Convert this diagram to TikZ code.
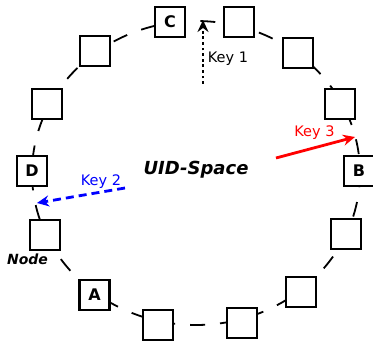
\documentclass[tikz,border=0pt]{standalone}
\usepackage{fontspec}
\setmainfont{DejaVu Sans}
\usetikzlibrary{arrows.meta}
\begin{document}
\begin{tikzpicture}[x=1pt,y=1pt,
  peer/.style={draw=black, line width=2.8pt, fill=white, minimum size=30pt,
    inner sep=0pt, font=\fontsize{16}{16}\selectfont\bfseries},
  ring/.style={line width=1.8pt, dash pattern=on 15pt off 15pt, dash phase=11pt},
  keyarrow/.style={line width=2.8pt, -{Stealth[length=12pt,width=11pt,inset=4pt]}},
  keylabel/.style={font=\fontsize{14.5}{14.5}\selectfont, inner sep=0pt},
  title/.style={font=\fontsize{18}{18}\selectfont\bfseries\itshape, inner sep=0pt}
]
\useasboundingbox (0,0) rectangle (373,346);

% identifier ring
\draw[ring] (196,173) ellipse [x radius=164, y radius=152];

% peers on the ring
\node[peer] (n00) at (359,175) {B};
\node[peer] (n01) at (340,242) {};
\node[peer] (n02) at (298,293) {};
\node[peer] (n03) at (239,324) {};
\node[peer] (n04) at (170,324) {C};
\node[peer] (n05) at (95,295) {};
\node[peer] (n06) at (47,242) {};
\node[peer] (n07) at (32,175) {D};
\node[peer] (n08) at (45,111) {};
\node[peer] (n09) at (94.5,51) {A};
\node[peer] (n10) at (158,21) {};
\node[peer] (n11) at (242,23) {};
\node[peer] (n12) at (301,54) {};
\node[peer] (n13) at (346,112) {};

\node[title] (space) at (196,176) {UID-Space};
\node[title, font=\fontsize{14}{14}\selectfont\bfseries\itshape] (nodelbl) at (27.5,86.5) {Node};

% keys mapped onto the ring
\coordinate (k1s) at (203,262);
\coordinate (k1e) at (203,326);
\coordinate (k2s) at (125,158);
\coordinate (k2e) at (37,143);
\coordinate (k3s) at (276,188);
\coordinate (k3e) at (355,209);

\draw[keyarrow, dash pattern=on 2.8pt off 2.8pt] (k1s) -- (k1e);
\draw[keyarrow, dash pattern=on 8pt off 5pt, blue] (k2s) -- (k2e);
\draw[keyarrow, red] (k3s) -- (k3e);

\node[keylabel] (key1) at (228,287.5) {Key 1};
\node[keylabel, blue] (key2) at (101,164) {Key 2};
\node[keylabel, red] (key3) at (314.5,213) {Key 3};
\end{tikzpicture}
\end{document}
